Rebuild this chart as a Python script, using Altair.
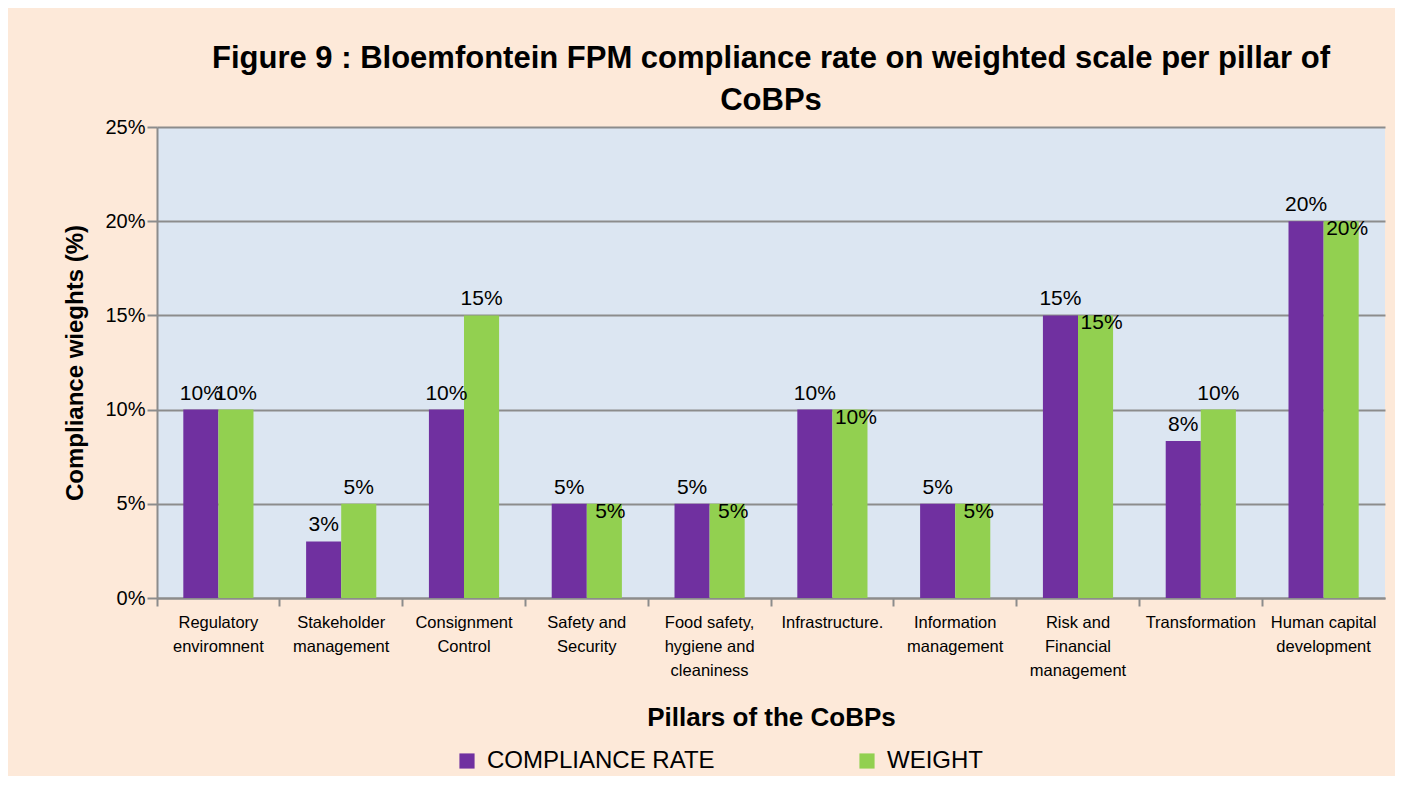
import altair as alt
import pandas as pd

categories = [
    "Regulatory|enviromnent",
    "Stakeholder|management",
    "Consignment|Control",
    "Safety and|Security",
    "Food safety,|hygiene and|cleaniness",
    "Infrastructure.",
    "Information|management",
    "Risk and|Financial|management",
    "Transformation",
    "Human capital|development",
]
series_names = ["COMPLIANCE RATE", "WEIGHT"]
compliance_rate = [0.10, 0.03, 0.10, 0.05, 0.05, 0.10, 0.05, 0.15, 0.0833, 0.20]
weight = [0.10, 0.05, 0.15, 0.05, 0.05, 0.10, 0.05, 0.15, 0.10, 0.20]
# whether the WEIGHT data label sits just inside the bar top (as in the original)
weight_label_inside = [False, False, False, True, True, True, True, True, False, True]
y_ticks = [0, 0.05, 0.10, 0.15, 0.20, 0.25]

rows = []
for i, c in enumerate(categories):
    rows.append({"category": c, "series": series_names[0], "value": compliance_rate[i], "inside": False})
    rows.append({"category": c, "series": series_names[1], "value": weight[i], "inside": weight_label_inside[i]})
df = pd.DataFrame(rows)

NARROW = "Liberation Sans Narrow, Arial Narrow, Liberation Sans, sans-serif"
GRAY = "#8c8c8c"

base = alt.Chart(df).encode(
    x=alt.X(
        "category:N",
        sort=categories,
        scale=alt.Scale(paddingInner=0, paddingOuter=0),
        axis=alt.Axis(
            title="Pillars of the CoBPs",
            titleFont=NARROW,
            titleFontSize=26,
            titleFontWeight="bold",
            titleColor="black",
            titleBaseline="middle",
            titleY=119,
            labelExpr="split(datum.label, '|')",
            labelAngle=0,
            labelFont=NARROW,
            labelFontSize=16.5,
            labelColor="black",
            labelLineHeight=24,
            labelPadding=8,
            labelLimit=200,
            bandPosition=0,
            domainColor=GRAY,
            domainWidth=2,
            tickColor=GRAY,
            tickWidth=2,
            tickSize=8,
            grid=False,
        ),
    ),
    xOffset=alt.XOffset(
        "series:N", sort=series_names, scale=alt.Scale(paddingInner=0, paddingOuter=0.75)
    ),
    y=alt.Y(
        "value:Q",
        scale=alt.Scale(domain=[0, 0.25]),
        axis=alt.Axis(
            title="Compliance wieghts (%)",
            titleFont="Liberation Sans, sans-serif",
            titleFontSize=24,
            titleFontWeight="bold",
            titleColor="black",
            titleX=-82,
            titleY=235.5,
            titleBaseline="middle",
            values=y_ticks,
            format=".0%",
            labelFont="Liberation Sans, sans-serif",
            labelFontSize=20,
            labelColor="black",
            labelPadding=2,
            domainColor=GRAY,
            domainWidth=2,
            tickColor=GRAY,
            tickWidth=2,
            tickSize=10,
            grid=True,
            gridColor=GRAY,
            gridWidth=2,
        ),
    ),
)

bars = base.mark_bar().encode(
    color=alt.Color(
        "series:N",
        sort=series_names,
        scale=alt.Scale(domain=series_names, range=["#7030A0", "#92D050"]),
        legend=alt.Legend(
            title=None,
            orient="none",
            legendX=298,
            legendY=622,
            direction="horizontal",
            symbolType="square",
            symbolSize=230,
            symbolStrokeWidth=0,
            symbolOpacity=1,
            labelFont=NARROW,
            labelFontSize=24,
            labelColor="black",
            labelOffset=8,
            labelLimit=400,
            columnPadding=140,
        ),
    )
)

labels_above = base.mark_text(
    baseline="bottom", dy=-6, font=NARROW, fontSize=21, color="black"
).encode(text=alt.Text("value:Q", format=".0%")).transform_filter("!datum.inside")

labels_inside = base.mark_text(
    baseline="top", dy=-3, dx=6, font=NARROW, fontSize=21, color="black"
).encode(text=alt.Text("value:Q", format=".0%")).transform_filter("datum.inside")

chart = (
    alt.layer(bars, labels_above, labels_inside)
    .properties(
        width=1228,
        height=471,
        autosize=alt.AutoSizeParams(type="none"),
        padding={"left": 149, "top": 119, "right": 10, "bottom": 178},
        background="#FDE9D9",
        title=alt.TitleParams(
            text=[
                "Figure 9 : Bloemfontein FPM compliance rate on weighted scale per pillar of",
                "CoBPs",
            ],
            font=NARROW,
            fontSize=31,
            fontWeight="bold",
            color="black",
            lineHeight=42,
            anchor="middle",
            offset=0,
        ),
    )
    .configure_view(fill="#DCE6F2", stroke=None)
)

chart.save("out.html", embed_options={"renderer": "svg", "actions": False})
